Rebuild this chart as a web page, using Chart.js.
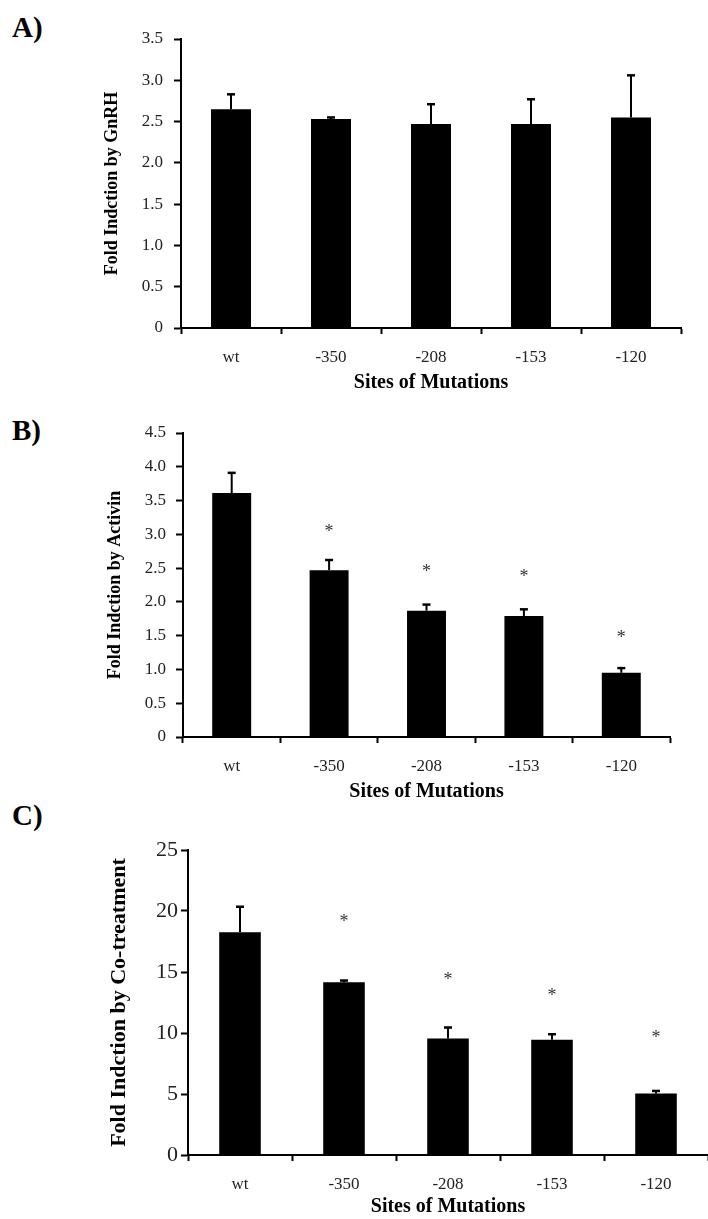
<!DOCTYPE html>
<html>
<head>
<meta charset="utf-8">
<script src="https://cdn.jsdelivr.net/npm/chart.js@4/dist/chart.umd.min.js"></script>
<style>
  html, body { margin: 0; padding: 0; background: #fff; overflow: hidden; }
  body { position: relative; width: 708px; height: 1219px; }
  canvas { position: absolute; left: 0; }
  .panel-label { position: absolute; left: 12px; font: bold 29px 'Liberation Serif', 'Times New Roman', serif; line-height: 29px; color: #000; }
</style>
</head>
<body>
<div class="panel-label" style="top:13px">A)</div>
<div class="panel-label" style="top:416px">B)</div>
<div class="panel-label" style="top:801px">C)</div>
<canvas id="chartA" width="708" height="399" style="top:0"></canvas>
<canvas id="chartB" width="708" height="409" style="top:399px"></canvas>
<canvas id="chartC" width="708" height="411" style="top:808px"></canvas>
<script>
const sites = ['wt', '-350', '-208', '-153', '-120'];

// A) GnRH
const gnrhMean = [2.65, 2.53, 2.47, 2.47, 2.55];
const gnrhErr = [0.18, 0.02, 0.24, 0.30, 0.51];

// B) Activin
const activinMean = [3.61, 2.47, 1.87, 1.79, 0.95];
const activinErr = [0.30, 0.15, 0.09, 0.10, 0.07];
const activinStars = [null, 3.09, 2.50, 2.43, 1.53];

// C) Co-treatment
const cotreatMean = [18.25, 14.15, 9.55, 9.45, 5.05];
const cotreatErr = [2.1, 0.15, 0.9, 0.45, 0.2];
const cotreatStars = [null, 19.4, 14.7, 13.4, 9.9];

const serif = "'Liberation Serif', 'Times New Roman', serif";

// upward-only error bars with caps, plus significance asterisks
const errorBarPlugin = {
    id: 'errorBars',
    afterDatasetsDraw(chart, args, opts) {
        const { ctx, scales: { x, y } } = chart;
        const means = chart.data.datasets[0].data;
        ctx.save();
        ctx.strokeStyle = '#000';
        means.forEach((m, i) => {
            const cx = x.getPixelForValue(i);
            const y0 = y.getPixelForValue(m);
            const y1 = y.getPixelForValue(m + opts.errors[i]);
            ctx.lineWidth = 2;
            ctx.beginPath();
            ctx.moveTo(cx, y0);
            ctx.lineTo(cx, y1);
            ctx.stroke();
            ctx.lineWidth = 2.5;
            ctx.beginPath();
            ctx.moveTo(cx - 4, y1);
            ctx.lineTo(cx + 4, y1);
            ctx.stroke();
            const s = opts.stars ? opts.stars[i] : null;
            if (s != null) {
                ctx.fillStyle = '#333';
                ctx.font = '18px ' + serif;
                ctx.textAlign = 'center';
                ctx.textBaseline = 'alphabetic';
                ctx.fillText('*', cx, y.getPixelForValue(s) + 9);
            }
        });
        ctx.restore();
    }
};

function buildChart(id, cfg) {
    return new Chart(document.getElementById(id), {
        type: 'bar',
        data: {
            labels: sites,
            datasets: [{
                data: cfg.means,
                backgroundColor: '#000',
                borderWidth: 0,
                barPercentage: 0.4,
                categoryPercentage: 1
            }]
        },
        options: {
            responsive: false,
            animation: false,
            layout: { padding: { top: cfg.top, right: cfg.right, bottom: 0, left: 0 } },
            plugins: {
                legend: { display: false },
                tooltip: { enabled: false },
                errorBars: { errors: cfg.errors, stars: cfg.stars }
            },
            scales: {
                x: {
                    offset: true,
                    afterFit: (scale) => { scale.height = cfg.xHeight; },
                    grid: { offset: true, drawOnChartArea: false, drawTicks: true, tickLength: 6, tickWidth: 2, tickColor: '#000' },
                    border: { display: true, color: '#000', width: 2 },
                    ticks: { color: '#222', font: { family: serif, size: 17 }, padding: 13, maxRotation: 0, autoSkip: false },
                    title: {
                        display: true,
                        text: 'Sites of Mutations',
                        color: '#000',
                        font: { family: serif, size: 20, weight: 'bold' },
                        padding: { top: 0, bottom: cfg.xTitlePad }
                    }
                },
                y: {
                    min: 0,
                    max: cfg.max,
                    afterFit: (scale) => { scale.width = cfg.axisX; },
                    grid: { drawOnChartArea: false, drawTicks: true, tickLength: 7, tickWidth: 2, tickColor: '#000' },
                    border: { display: true, color: '#000', width: 2 },
                    ticks: {
                        stepSize: cfg.step,
                        autoSkip: false,
                        color: '#222',
                        padding: cfg.yTickPad,
                        font: { family: serif, size: cfg.yTickSize },
                        callback: (v) => cfg.step < 1 ? (v === 0 ? '0' : v.toFixed(1)) : String(v)
                    },
                    title: {
                        display: true,
                        text: cfg.yTitle,
                        color: '#000',
                        font: { family: serif, size: cfg.yTitleSize, weight: 'bold' },
                        padding: { top: cfg.yTitlePad, bottom: 0 }
                    }
                }
            }
        },
        plugins: [errorBarPlugin]
    });
}

buildChart('chartA', {
    means: gnrhMean, errors: gnrhErr, stars: null,
    max: 3.5, step: 0.5, yTitle: 'Fold Indction by GnRH',
    top: 39, right: 27, axisX: 181, xHeight: 71, xTitlePad: 4,
    yTickPad: 11, yTickSize: 17, yTitleSize: 18, yTitlePad: 102
});

buildChart('chartB', {
    means: activinMean, errors: activinErr, stars: activinStars,
    max: 4.5, step: 0.5, yTitle: 'Fold Indction by Activin',
    top: 34, right: 38, axisX: 183, xHeight: 71, xTitlePad: 4,
    yTickPad: 10, yTickSize: 17, yTitleSize: 18, yTitlePad: 105
});

buildChart('chartC', {
    means: cotreatMean, errors: cotreatErr, stars: cotreatStars,
    max: 25, step: 5, yTitle: 'Fold Indction by Co-treatment',
    top: 42, right: 0, axisX: 188, xHeight: 64, xTitlePad: 0,
    yTickPad: 3, yTickSize: 22, yTitleSize: 22, yTitlePad: 106
});
</script>
</body>
</html>
